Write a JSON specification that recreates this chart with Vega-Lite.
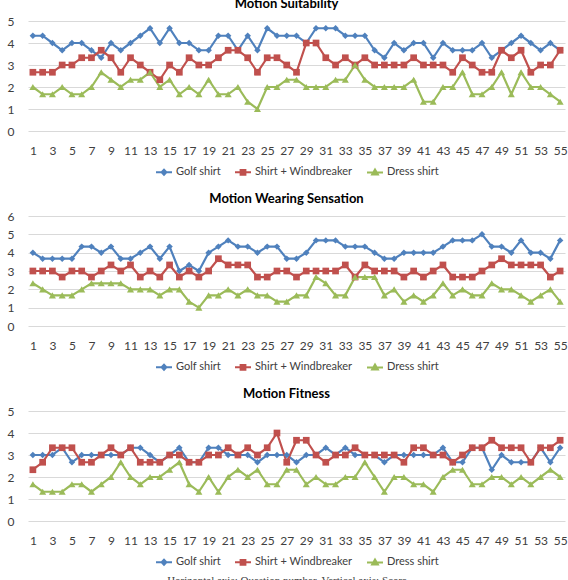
{
  "$schema": "https://vega.github.io/schema/vega-lite/v6.json",
  "background": "white",
  "padding": {"left": 7, "right": 2, "top": -2, "bottom": 0},
  "bounds": "flush",
  "spacing": 85,
  "title": {
    "text": "Horizontal axis: Question number, Vertical axis: Score",
    "orient": "bottom",
    "anchor": "middle",
    "font": "Liberation Serif",
    "fontSize": 11,
    "fontWeight": "normal",
    "color": "#404040",
    "offset": 6
  },
  "datasets": {
    "suitability": [
      {"q":1,"s":"Golf shirt","v":4.33},{"q":2,"s":"Golf shirt","v":4.33},{"q":3,"s":"Golf shirt","v":4},{"q":4,"s":"Golf shirt","v":3.67},{"q":5,"s":"Golf shirt","v":4},
      {"q":6,"s":"Golf shirt","v":4},{"q":7,"s":"Golf shirt","v":3.67},{"q":8,"s":"Golf shirt","v":3.33},{"q":9,"s":"Golf shirt","v":4},{"q":10,"s":"Golf shirt","v":3.67},
      {"q":11,"s":"Golf shirt","v":4},{"q":12,"s":"Golf shirt","v":4.33},{"q":13,"s":"Golf shirt","v":4.67},{"q":14,"s":"Golf shirt","v":4},{"q":15,"s":"Golf shirt","v":4.67},
      {"q":16,"s":"Golf shirt","v":4},{"q":17,"s":"Golf shirt","v":4},{"q":18,"s":"Golf shirt","v":3.67},{"q":19,"s":"Golf shirt","v":3.67},{"q":20,"s":"Golf shirt","v":4.33},
      {"q":21,"s":"Golf shirt","v":4.33},{"q":22,"s":"Golf shirt","v":3.67},{"q":23,"s":"Golf shirt","v":4.33},{"q":24,"s":"Golf shirt","v":3.67},{"q":25,"s":"Golf shirt","v":4.67},
      {"q":26,"s":"Golf shirt","v":4.33},{"q":27,"s":"Golf shirt","v":4.33},{"q":28,"s":"Golf shirt","v":4.33},{"q":29,"s":"Golf shirt","v":4},{"q":30,"s":"Golf shirt","v":4.67},
      {"q":31,"s":"Golf shirt","v":4.67},{"q":32,"s":"Golf shirt","v":4.67},{"q":33,"s":"Golf shirt","v":4.33},{"q":34,"s":"Golf shirt","v":4.33},{"q":35,"s":"Golf shirt","v":4.33},
      {"q":36,"s":"Golf shirt","v":3.67},{"q":37,"s":"Golf shirt","v":3.33},{"q":38,"s":"Golf shirt","v":4},{"q":39,"s":"Golf shirt","v":3.67},{"q":40,"s":"Golf shirt","v":4},
      {"q":41,"s":"Golf shirt","v":4},{"q":42,"s":"Golf shirt","v":3.33},{"q":43,"s":"Golf shirt","v":4},{"q":44,"s":"Golf shirt","v":3.67},{"q":45,"s":"Golf shirt","v":3.67},
      {"q":46,"s":"Golf shirt","v":3.67},{"q":47,"s":"Golf shirt","v":4},{"q":48,"s":"Golf shirt","v":3.33},{"q":49,"s":"Golf shirt","v":3.67},{"q":50,"s":"Golf shirt","v":4},
      {"q":51,"s":"Golf shirt","v":4.33},{"q":52,"s":"Golf shirt","v":4},{"q":53,"s":"Golf shirt","v":3.67},{"q":54,"s":"Golf shirt","v":4},{"q":55,"s":"Golf shirt","v":3.67},

      {"q":1,"s":"Shirt + Windbreaker","v":2.67},{"q":2,"s":"Shirt + Windbreaker","v":2.67},{"q":3,"s":"Shirt + Windbreaker","v":2.67},{"q":4,"s":"Shirt + Windbreaker","v":3},{"q":5,"s":"Shirt + Windbreaker","v":3},
      {"q":6,"s":"Shirt + Windbreaker","v":3.33},{"q":7,"s":"Shirt + Windbreaker","v":3.33},{"q":8,"s":"Shirt + Windbreaker","v":3.67},{"q":9,"s":"Shirt + Windbreaker","v":3.33},{"q":10,"s":"Shirt + Windbreaker","v":2.67},
      {"q":11,"s":"Shirt + Windbreaker","v":3.33},{"q":12,"s":"Shirt + Windbreaker","v":3},{"q":13,"s":"Shirt + Windbreaker","v":2.67},{"q":14,"s":"Shirt + Windbreaker","v":2.33},{"q":15,"s":"Shirt + Windbreaker","v":3},
      {"q":16,"s":"Shirt + Windbreaker","v":2.67},{"q":17,"s":"Shirt + Windbreaker","v":3.33},{"q":18,"s":"Shirt + Windbreaker","v":3},{"q":19,"s":"Shirt + Windbreaker","v":3},{"q":20,"s":"Shirt + Windbreaker","v":3.33},
      {"q":21,"s":"Shirt + Windbreaker","v":3.67},{"q":22,"s":"Shirt + Windbreaker","v":3.67},{"q":23,"s":"Shirt + Windbreaker","v":3.33},{"q":24,"s":"Shirt + Windbreaker","v":2.67},{"q":25,"s":"Shirt + Windbreaker","v":3.33},
      {"q":26,"s":"Shirt + Windbreaker","v":3.33},{"q":27,"s":"Shirt + Windbreaker","v":3},{"q":28,"s":"Shirt + Windbreaker","v":2.67},{"q":29,"s":"Shirt + Windbreaker","v":4},{"q":30,"s":"Shirt + Windbreaker","v":4},
      {"q":31,"s":"Shirt + Windbreaker","v":3.33},{"q":32,"s":"Shirt + Windbreaker","v":3},{"q":33,"s":"Shirt + Windbreaker","v":3.33},{"q":34,"s":"Shirt + Windbreaker","v":3},{"q":35,"s":"Shirt + Windbreaker","v":3.33},
      {"q":36,"s":"Shirt + Windbreaker","v":3},{"q":37,"s":"Shirt + Windbreaker","v":3},{"q":38,"s":"Shirt + Windbreaker","v":3},{"q":39,"s":"Shirt + Windbreaker","v":3},{"q":40,"s":"Shirt + Windbreaker","v":3.33},
      {"q":41,"s":"Shirt + Windbreaker","v":3},{"q":42,"s":"Shirt + Windbreaker","v":3},{"q":43,"s":"Shirt + Windbreaker","v":3},{"q":44,"s":"Shirt + Windbreaker","v":2.67},{"q":45,"s":"Shirt + Windbreaker","v":3.33},
      {"q":46,"s":"Shirt + Windbreaker","v":3},{"q":47,"s":"Shirt + Windbreaker","v":2.67},{"q":48,"s":"Shirt + Windbreaker","v":2.67},{"q":49,"s":"Shirt + Windbreaker","v":3.67},{"q":50,"s":"Shirt + Windbreaker","v":3.33},
      {"q":51,"s":"Shirt + Windbreaker","v":3.67},{"q":52,"s":"Shirt + Windbreaker","v":2.67},{"q":53,"s":"Shirt + Windbreaker","v":3},{"q":54,"s":"Shirt + Windbreaker","v":3},{"q":55,"s":"Shirt + Windbreaker","v":3.67},

      {"q":1,"s":"Dress shirt","v":2},{"q":2,"s":"Dress shirt","v":1.67},{"q":3,"s":"Dress shirt","v":1.67},{"q":4,"s":"Dress shirt","v":2},{"q":5,"s":"Dress shirt","v":1.67},
      {"q":6,"s":"Dress shirt","v":1.67},{"q":7,"s":"Dress shirt","v":2},{"q":8,"s":"Dress shirt","v":2.67},{"q":9,"s":"Dress shirt","v":2.33},{"q":10,"s":"Dress shirt","v":2},
      {"q":11,"s":"Dress shirt","v":2.33},{"q":12,"s":"Dress shirt","v":2.33},{"q":13,"s":"Dress shirt","v":2.67},{"q":14,"s":"Dress shirt","v":2},{"q":15,"s":"Dress shirt","v":2.33},
      {"q":16,"s":"Dress shirt","v":1.67},{"q":17,"s":"Dress shirt","v":2},{"q":18,"s":"Dress shirt","v":1.67},{"q":19,"s":"Dress shirt","v":2.33},{"q":20,"s":"Dress shirt","v":1.67},
      {"q":21,"s":"Dress shirt","v":1.67},{"q":22,"s":"Dress shirt","v":2},{"q":23,"s":"Dress shirt","v":1.33},{"q":24,"s":"Dress shirt","v":1},{"q":25,"s":"Dress shirt","v":2},
      {"q":26,"s":"Dress shirt","v":2},{"q":27,"s":"Dress shirt","v":2.33},{"q":28,"s":"Dress shirt","v":2.33},{"q":29,"s":"Dress shirt","v":2},{"q":30,"s":"Dress shirt","v":2},
      {"q":31,"s":"Dress shirt","v":2},{"q":32,"s":"Dress shirt","v":2.33},{"q":33,"s":"Dress shirt","v":2.33},{"q":34,"s":"Dress shirt","v":3},{"q":35,"s":"Dress shirt","v":2.33},
      {"q":36,"s":"Dress shirt","v":2},{"q":37,"s":"Dress shirt","v":2},{"q":38,"s":"Dress shirt","v":2},{"q":39,"s":"Dress shirt","v":2},{"q":40,"s":"Dress shirt","v":2.33},
      {"q":41,"s":"Dress shirt","v":1.33},{"q":42,"s":"Dress shirt","v":1.33},{"q":43,"s":"Dress shirt","v":2},{"q":44,"s":"Dress shirt","v":2},{"q":45,"s":"Dress shirt","v":2.67},
      {"q":46,"s":"Dress shirt","v":1.67},{"q":47,"s":"Dress shirt","v":1.67},{"q":48,"s":"Dress shirt","v":2},{"q":49,"s":"Dress shirt","v":2.67},{"q":50,"s":"Dress shirt","v":1.67},
      {"q":51,"s":"Dress shirt","v":2.67},{"q":52,"s":"Dress shirt","v":2},{"q":53,"s":"Dress shirt","v":2},{"q":54,"s":"Dress shirt","v":1.67},{"q":55,"s":"Dress shirt","v":1.33}
    ],
    "sensation": [
      {"q":1,"s":"Golf shirt","v":4},{"q":2,"s":"Golf shirt","v":3.67},{"q":3,"s":"Golf shirt","v":3.67},{"q":4,"s":"Golf shirt","v":3.67},{"q":5,"s":"Golf shirt","v":3.67},
      {"q":6,"s":"Golf shirt","v":4.33},{"q":7,"s":"Golf shirt","v":4.33},{"q":8,"s":"Golf shirt","v":4},{"q":9,"s":"Golf shirt","v":4.33},{"q":10,"s":"Golf shirt","v":3.67},
      {"q":11,"s":"Golf shirt","v":3.67},{"q":12,"s":"Golf shirt","v":4},{"q":13,"s":"Golf shirt","v":4.33},{"q":14,"s":"Golf shirt","v":3.67},{"q":15,"s":"Golf shirt","v":4.33},
      {"q":16,"s":"Golf shirt","v":3},{"q":17,"s":"Golf shirt","v":3.33},{"q":18,"s":"Golf shirt","v":3},{"q":19,"s":"Golf shirt","v":4},{"q":20,"s":"Golf shirt","v":4.33},
      {"q":21,"s":"Golf shirt","v":4.67},{"q":22,"s":"Golf shirt","v":4.33},{"q":23,"s":"Golf shirt","v":4.33},{"q":24,"s":"Golf shirt","v":4},{"q":25,"s":"Golf shirt","v":4.33},
      {"q":26,"s":"Golf shirt","v":4.33},{"q":27,"s":"Golf shirt","v":3.67},{"q":28,"s":"Golf shirt","v":3.67},{"q":29,"s":"Golf shirt","v":4},{"q":30,"s":"Golf shirt","v":4.67},
      {"q":31,"s":"Golf shirt","v":4.67},{"q":32,"s":"Golf shirt","v":4.67},{"q":33,"s":"Golf shirt","v":4.33},{"q":34,"s":"Golf shirt","v":4.33},{"q":35,"s":"Golf shirt","v":4.33},
      {"q":36,"s":"Golf shirt","v":4},{"q":37,"s":"Golf shirt","v":3.67},{"q":38,"s":"Golf shirt","v":3.67},{"q":39,"s":"Golf shirt","v":4},{"q":40,"s":"Golf shirt","v":4},
      {"q":41,"s":"Golf shirt","v":4},{"q":42,"s":"Golf shirt","v":4},{"q":43,"s":"Golf shirt","v":4.33},{"q":44,"s":"Golf shirt","v":4.67},{"q":45,"s":"Golf shirt","v":4.67},
      {"q":46,"s":"Golf shirt","v":4.67},{"q":47,"s":"Golf shirt","v":5},{"q":48,"s":"Golf shirt","v":4.33},{"q":49,"s":"Golf shirt","v":4.33},{"q":50,"s":"Golf shirt","v":4},
      {"q":51,"s":"Golf shirt","v":4.67},{"q":52,"s":"Golf shirt","v":4},{"q":53,"s":"Golf shirt","v":4},{"q":54,"s":"Golf shirt","v":3.67},{"q":55,"s":"Golf shirt","v":4.67},

      {"q":1,"s":"Shirt + Windbreaker","v":3},{"q":2,"s":"Shirt + Windbreaker","v":3},{"q":3,"s":"Shirt + Windbreaker","v":3},{"q":4,"s":"Shirt + Windbreaker","v":2.67},{"q":5,"s":"Shirt + Windbreaker","v":3},
      {"q":6,"s":"Shirt + Windbreaker","v":3},{"q":7,"s":"Shirt + Windbreaker","v":2.67},{"q":8,"s":"Shirt + Windbreaker","v":3},{"q":9,"s":"Shirt + Windbreaker","v":3.33},{"q":10,"s":"Shirt + Windbreaker","v":3},
      {"q":11,"s":"Shirt + Windbreaker","v":3.33},{"q":12,"s":"Shirt + Windbreaker","v":2.67},{"q":13,"s":"Shirt + Windbreaker","v":3},{"q":14,"s":"Shirt + Windbreaker","v":2.67},{"q":15,"s":"Shirt + Windbreaker","v":3.33},
      {"q":16,"s":"Shirt + Windbreaker","v":2.67},{"q":17,"s":"Shirt + Windbreaker","v":3},{"q":18,"s":"Shirt + Windbreaker","v":2.67},{"q":19,"s":"Shirt + Windbreaker","v":3},{"q":20,"s":"Shirt + Windbreaker","v":3.67},
      {"q":21,"s":"Shirt + Windbreaker","v":3.33},{"q":22,"s":"Shirt + Windbreaker","v":3.33},{"q":23,"s":"Shirt + Windbreaker","v":3.33},{"q":24,"s":"Shirt + Windbreaker","v":2.67},{"q":25,"s":"Shirt + Windbreaker","v":2.67},
      {"q":26,"s":"Shirt + Windbreaker","v":3},{"q":27,"s":"Shirt + Windbreaker","v":3},{"q":28,"s":"Shirt + Windbreaker","v":2.67},{"q":29,"s":"Shirt + Windbreaker","v":3},{"q":30,"s":"Shirt + Windbreaker","v":3},
      {"q":31,"s":"Shirt + Windbreaker","v":3},{"q":32,"s":"Shirt + Windbreaker","v":3},{"q":33,"s":"Shirt + Windbreaker","v":3.33},{"q":34,"s":"Shirt + Windbreaker","v":2.67},{"q":35,"s":"Shirt + Windbreaker","v":3.33},
      {"q":36,"s":"Shirt + Windbreaker","v":3},{"q":37,"s":"Shirt + Windbreaker","v":3},{"q":38,"s":"Shirt + Windbreaker","v":3},{"q":39,"s":"Shirt + Windbreaker","v":2.67},{"q":40,"s":"Shirt + Windbreaker","v":3},
      {"q":41,"s":"Shirt + Windbreaker","v":2.67},{"q":42,"s":"Shirt + Windbreaker","v":3},{"q":43,"s":"Shirt + Windbreaker","v":3.33},{"q":44,"s":"Shirt + Windbreaker","v":2.67},{"q":45,"s":"Shirt + Windbreaker","v":2.67},
      {"q":46,"s":"Shirt + Windbreaker","v":2.67},{"q":47,"s":"Shirt + Windbreaker","v":3},{"q":48,"s":"Shirt + Windbreaker","v":3.33},{"q":49,"s":"Shirt + Windbreaker","v":3.67},{"q":50,"s":"Shirt + Windbreaker","v":3.33},
      {"q":51,"s":"Shirt + Windbreaker","v":3.33},{"q":52,"s":"Shirt + Windbreaker","v":3.33},{"q":53,"s":"Shirt + Windbreaker","v":3.33},{"q":54,"s":"Shirt + Windbreaker","v":2.67},{"q":55,"s":"Shirt + Windbreaker","v":3},

      {"q":1,"s":"Dress shirt","v":2.33},{"q":2,"s":"Dress shirt","v":2},{"q":3,"s":"Dress shirt","v":1.67},{"q":4,"s":"Dress shirt","v":1.67},{"q":5,"s":"Dress shirt","v":1.67},
      {"q":6,"s":"Dress shirt","v":2},{"q":7,"s":"Dress shirt","v":2.33},{"q":8,"s":"Dress shirt","v":2.33},{"q":9,"s":"Dress shirt","v":2.33},{"q":10,"s":"Dress shirt","v":2.33},
      {"q":11,"s":"Dress shirt","v":2},{"q":12,"s":"Dress shirt","v":2},{"q":13,"s":"Dress shirt","v":2},{"q":14,"s":"Dress shirt","v":1.67},{"q":15,"s":"Dress shirt","v":2},
      {"q":16,"s":"Dress shirt","v":2},{"q":17,"s":"Dress shirt","v":1.33},{"q":18,"s":"Dress shirt","v":1},{"q":19,"s":"Dress shirt","v":1.67},{"q":20,"s":"Dress shirt","v":1.67},
      {"q":21,"s":"Dress shirt","v":2},{"q":22,"s":"Dress shirt","v":1.67},{"q":23,"s":"Dress shirt","v":2},{"q":24,"s":"Dress shirt","v":1.67},{"q":25,"s":"Dress shirt","v":1.67},
      {"q":26,"s":"Dress shirt","v":1.33},{"q":27,"s":"Dress shirt","v":1.33},{"q":28,"s":"Dress shirt","v":1.67},{"q":29,"s":"Dress shirt","v":1.67},{"q":30,"s":"Dress shirt","v":2.67},
      {"q":31,"s":"Dress shirt","v":2.33},{"q":32,"s":"Dress shirt","v":1.67},{"q":33,"s":"Dress shirt","v":1.67},{"q":34,"s":"Dress shirt","v":2.67},{"q":35,"s":"Dress shirt","v":2.67},
      {"q":36,"s":"Dress shirt","v":2.67},{"q":37,"s":"Dress shirt","v":1.67},{"q":38,"s":"Dress shirt","v":2},{"q":39,"s":"Dress shirt","v":1.33},{"q":40,"s":"Dress shirt","v":1.67},
      {"q":41,"s":"Dress shirt","v":1.33},{"q":42,"s":"Dress shirt","v":1.67},{"q":43,"s":"Dress shirt","v":2.33},{"q":44,"s":"Dress shirt","v":1.67},{"q":45,"s":"Dress shirt","v":2},
      {"q":46,"s":"Dress shirt","v":1.67},{"q":47,"s":"Dress shirt","v":1.67},{"q":48,"s":"Dress shirt","v":2.33},{"q":49,"s":"Dress shirt","v":2},{"q":50,"s":"Dress shirt","v":2},
      {"q":51,"s":"Dress shirt","v":1.67},{"q":52,"s":"Dress shirt","v":1.33},{"q":53,"s":"Dress shirt","v":1.67},{"q":54,"s":"Dress shirt","v":2},{"q":55,"s":"Dress shirt","v":1.33}
    ],
    "fitness": [
      {"q":1,"s":"Golf shirt","v":3},{"q":2,"s":"Golf shirt","v":3},{"q":3,"s":"Golf shirt","v":3},{"q":4,"s":"Golf shirt","v":3.33},{"q":5,"s":"Golf shirt","v":2.67},
      {"q":6,"s":"Golf shirt","v":3},{"q":7,"s":"Golf shirt","v":3},{"q":8,"s":"Golf shirt","v":3},{"q":9,"s":"Golf shirt","v":3},{"q":10,"s":"Golf shirt","v":3},
      {"q":11,"s":"Golf shirt","v":3.33},{"q":12,"s":"Golf shirt","v":3.33},{"q":13,"s":"Golf shirt","v":3},{"q":14,"s":"Golf shirt","v":2.67},{"q":15,"s":"Golf shirt","v":3},
      {"q":16,"s":"Golf shirt","v":3.33},{"q":17,"s":"Golf shirt","v":2.67},{"q":18,"s":"Golf shirt","v":2.67},{"q":19,"s":"Golf shirt","v":3.33},{"q":20,"s":"Golf shirt","v":3.33},
      {"q":21,"s":"Golf shirt","v":3},{"q":22,"s":"Golf shirt","v":3},{"q":23,"s":"Golf shirt","v":3},{"q":24,"s":"Golf shirt","v":2.67},{"q":25,"s":"Golf shirt","v":3},
      {"q":26,"s":"Golf shirt","v":3},{"q":27,"s":"Golf shirt","v":3},{"q":28,"s":"Golf shirt","v":2.67},{"q":29,"s":"Golf shirt","v":3},{"q":30,"s":"Golf shirt","v":3},
      {"q":31,"s":"Golf shirt","v":3.33},{"q":32,"s":"Golf shirt","v":3},{"q":33,"s":"Golf shirt","v":3.33},{"q":34,"s":"Golf shirt","v":3},{"q":35,"s":"Golf shirt","v":3},
      {"q":36,"s":"Golf shirt","v":3},{"q":37,"s":"Golf shirt","v":2.67},{"q":38,"s":"Golf shirt","v":3},{"q":39,"s":"Golf shirt","v":3},{"q":40,"s":"Golf shirt","v":3},
      {"q":41,"s":"Golf shirt","v":3},{"q":42,"s":"Golf shirt","v":3},{"q":43,"s":"Golf shirt","v":3.33},{"q":44,"s":"Golf shirt","v":2.67},{"q":45,"s":"Golf shirt","v":2.67},
      {"q":46,"s":"Golf shirt","v":3.33},{"q":47,"s":"Golf shirt","v":3.33},{"q":48,"s":"Golf shirt","v":2.33},{"q":49,"s":"Golf shirt","v":3},{"q":50,"s":"Golf shirt","v":2.67},
      {"q":51,"s":"Golf shirt","v":2.67},{"q":52,"s":"Golf shirt","v":2.67},{"q":53,"s":"Golf shirt","v":3.33},{"q":54,"s":"Golf shirt","v":2.67},{"q":55,"s":"Golf shirt","v":3.33},

      {"q":1,"s":"Shirt + Windbreaker","v":2.33},{"q":2,"s":"Shirt + Windbreaker","v":2.67},{"q":3,"s":"Shirt + Windbreaker","v":3.33},{"q":4,"s":"Shirt + Windbreaker","v":3.33},{"q":5,"s":"Shirt + Windbreaker","v":3.33},
      {"q":6,"s":"Shirt + Windbreaker","v":2.67},{"q":7,"s":"Shirt + Windbreaker","v":2.67},{"q":8,"s":"Shirt + Windbreaker","v":3},{"q":9,"s":"Shirt + Windbreaker","v":3.33},{"q":10,"s":"Shirt + Windbreaker","v":3},
      {"q":11,"s":"Shirt + Windbreaker","v":3.33},{"q":12,"s":"Shirt + Windbreaker","v":2.67},{"q":13,"s":"Shirt + Windbreaker","v":2.67},{"q":14,"s":"Shirt + Windbreaker","v":2.67},{"q":15,"s":"Shirt + Windbreaker","v":3},
      {"q":16,"s":"Shirt + Windbreaker","v":3},{"q":17,"s":"Shirt + Windbreaker","v":2.67},{"q":18,"s":"Shirt + Windbreaker","v":2.67},{"q":19,"s":"Shirt + Windbreaker","v":3},{"q":20,"s":"Shirt + Windbreaker","v":3},
      {"q":21,"s":"Shirt + Windbreaker","v":3.33},{"q":22,"s":"Shirt + Windbreaker","v":3},{"q":23,"s":"Shirt + Windbreaker","v":3.33},{"q":24,"s":"Shirt + Windbreaker","v":3},{"q":25,"s":"Shirt + Windbreaker","v":3.33},
      {"q":26,"s":"Shirt + Windbreaker","v":4},{"q":27,"s":"Shirt + Windbreaker","v":2.67},{"q":28,"s":"Shirt + Windbreaker","v":3.67},{"q":29,"s":"Shirt + Windbreaker","v":3.67},{"q":30,"s":"Shirt + Windbreaker","v":3},
      {"q":31,"s":"Shirt + Windbreaker","v":2.67},{"q":32,"s":"Shirt + Windbreaker","v":3},{"q":33,"s":"Shirt + Windbreaker","v":3},{"q":34,"s":"Shirt + Windbreaker","v":3.33},{"q":35,"s":"Shirt + Windbreaker","v":3},
      {"q":36,"s":"Shirt + Windbreaker","v":3},{"q":37,"s":"Shirt + Windbreaker","v":3},{"q":38,"s":"Shirt + Windbreaker","v":3},{"q":39,"s":"Shirt + Windbreaker","v":2.67},{"q":40,"s":"Shirt + Windbreaker","v":3.33},
      {"q":41,"s":"Shirt + Windbreaker","v":3.33},{"q":42,"s":"Shirt + Windbreaker","v":3},{"q":43,"s":"Shirt + Windbreaker","v":3},{"q":44,"s":"Shirt + Windbreaker","v":2.67},{"q":45,"s":"Shirt + Windbreaker","v":3},
      {"q":46,"s":"Shirt + Windbreaker","v":3.33},{"q":47,"s":"Shirt + Windbreaker","v":3.33},{"q":48,"s":"Shirt + Windbreaker","v":3.67},{"q":49,"s":"Shirt + Windbreaker","v":3.33},{"q":50,"s":"Shirt + Windbreaker","v":3.33},
      {"q":51,"s":"Shirt + Windbreaker","v":3.33},{"q":52,"s":"Shirt + Windbreaker","v":2.67},{"q":53,"s":"Shirt + Windbreaker","v":3.33},{"q":54,"s":"Shirt + Windbreaker","v":3.33},{"q":55,"s":"Shirt + Windbreaker","v":3.67},

      {"q":1,"s":"Dress shirt","v":1.67},{"q":2,"s":"Dress shirt","v":1.33},{"q":3,"s":"Dress shirt","v":1.33},{"q":4,"s":"Dress shirt","v":1.33},{"q":5,"s":"Dress shirt","v":1.67},
      {"q":6,"s":"Dress shirt","v":1.67},{"q":7,"s":"Dress shirt","v":1.33},{"q":8,"s":"Dress shirt","v":1.67},{"q":9,"s":"Dress shirt","v":2},{"q":10,"s":"Dress shirt","v":2.67},
      {"q":11,"s":"Dress shirt","v":2},{"q":12,"s":"Dress shirt","v":1.67},{"q":13,"s":"Dress shirt","v":2},{"q":14,"s":"Dress shirt","v":2},{"q":15,"s":"Dress shirt","v":2.33},
      {"q":16,"s":"Dress shirt","v":2.67},{"q":17,"s":"Dress shirt","v":1.67},{"q":18,"s":"Dress shirt","v":1.33},{"q":19,"s":"Dress shirt","v":2},{"q":20,"s":"Dress shirt","v":1.33},
      {"q":21,"s":"Dress shirt","v":2},{"q":22,"s":"Dress shirt","v":2.33},{"q":23,"s":"Dress shirt","v":2},{"q":24,"s":"Dress shirt","v":2.33},{"q":25,"s":"Dress shirt","v":1.67},
      {"q":26,"s":"Dress shirt","v":1.67},{"q":27,"s":"Dress shirt","v":2.33},{"q":28,"s":"Dress shirt","v":2.33},{"q":29,"s":"Dress shirt","v":1.67},{"q":30,"s":"Dress shirt","v":2},
      {"q":31,"s":"Dress shirt","v":1.67},{"q":32,"s":"Dress shirt","v":1.67},{"q":33,"s":"Dress shirt","v":2},{"q":34,"s":"Dress shirt","v":2},{"q":35,"s":"Dress shirt","v":2.67},
      {"q":36,"s":"Dress shirt","v":2},{"q":37,"s":"Dress shirt","v":1.33},{"q":38,"s":"Dress shirt","v":2},{"q":39,"s":"Dress shirt","v":2},{"q":40,"s":"Dress shirt","v":1.67},
      {"q":41,"s":"Dress shirt","v":1.67},{"q":42,"s":"Dress shirt","v":1.33},{"q":43,"s":"Dress shirt","v":2},{"q":44,"s":"Dress shirt","v":2.33},{"q":45,"s":"Dress shirt","v":2.33},
      {"q":46,"s":"Dress shirt","v":1.67},{"q":47,"s":"Dress shirt","v":1.67},{"q":48,"s":"Dress shirt","v":2},{"q":49,"s":"Dress shirt","v":2},{"q":50,"s":"Dress shirt","v":1.67},
      {"q":51,"s":"Dress shirt","v":2},{"q":52,"s":"Dress shirt","v":1.67},{"q":53,"s":"Dress shirt","v":2},{"q":54,"s":"Dress shirt","v":2.33},{"q":55,"s":"Dress shirt","v":2}
    ]
  },
  "resolve": {
    "scale": {"color": "independent", "shape": "independent"},
    "legend": {"color": "independent", "shape": "independent"}
  },
  "vconcat": [
    {
      "data": {"name": "suitability"},
      "width": 537,
      "height": 110,
      "title": {"text": "Motion Suitability", "dx": -10},
      "encoding": {
        "x": {"field": "q", "type": "ordinal", "title": null,
              "axis": {"values": [1,3,5,7,9,11,13,15,17,19,21,23,25,27,29,31,33,35,37,39,41,43,45,47,49,51,53,55]}},
        "y": {"field": "v", "type": "quantitative", "title": null,
              "scale": {"domain": [0, 5], "nice": false},
              "axis": {"values": [0,1,2,3,4,5]}},
        "color": {"field": "s", "type": "nominal",
                  "scale": {"domain": ["Golf shirt", "Shirt + Windbreaker", "Dress shirt"], "range": ["#4F81BD", "#C0504D", "#9BBB59"]},
                  "legend": {"title": null, "orient": "bottom", "direction": "horizontal", "offset": 7}}
      },
      "layer": [
        {"mark": {"type": "line", "strokeWidth": 2.2}},
        {"transform": [{"filter": {"field": "s", "equal": "Golf shirt"}}],
         "mark": {"type": "point", "shape": "diamond", "filled": true, "opacity": 1, "size": 42}},
        {"transform": [{"filter": {"field": "s", "equal": "Shirt + Windbreaker"}}],
         "mark": {"type": "point", "shape": "square", "filled": true, "opacity": 1, "size": 45}},
        {"transform": [{"filter": {"field": "s", "equal": "Dress shirt"}}],
         "mark": {"type": "point", "shape": "triangle-up", "filled": true, "opacity": 1, "size": 50}},
        {"transform": [{"filter": "false"}],
         "mark": {"type": "point", "filled": false, "opacity": 1, "strokeWidth": 2},
         "encoding": {
           "shape": {"field": "s", "type": "nominal",
                     "scale": {"domain": ["Golf shirt", "Shirt + Windbreaker", "Dress shirt"],
                               "range": ["M-1,0H1M0,-0.32L0.3,0L0,0.32L-0.3,0ZM0,-0.12L0.1,0L0,0.12L-0.1,0Z",
                                         "M-1,0H1M-0.3,-0.3H0.3V0.3H-0.3ZM-0.1,-0.1H0.1V0.1H-0.1Z",
                                         "M-1,0H1M0,-0.36L0.36,0.28H-0.36ZM0,-0.1L0.12,0.12H-0.12Z"]},
                     "legend": {"title": null, "orient": "bottom", "direction": "horizontal", "offset": 7}}
         }}
      ]
    },
    {
      "data": {"name": "sensation"},
      "width": 537,
      "height": 110,
      "title": {"text": "Motion Wearing Sensation", "dx": -10},
      "encoding": {
        "x": {"field": "q", "type": "ordinal", "title": null,
              "axis": {"values": [1,3,5,7,9,11,13,15,17,19,21,23,25,27,29,31,33,35,37,39,41,43,45,47,49,51,53,55]}},
        "y": {"field": "v", "type": "quantitative", "title": null,
              "scale": {"domain": [0, 6], "nice": false},
              "axis": {"values": [0,1,2,3,4,5,6]}},
        "color": {"field": "s", "type": "nominal",
                  "scale": {"domain": ["Golf shirt", "Shirt + Windbreaker", "Dress shirt"], "range": ["#4F81BD", "#C0504D", "#9BBB59"]},
                  "legend": {"title": null, "orient": "bottom", "direction": "horizontal", "offset": 7}}
      },
      "layer": [
        {"mark": {"type": "line", "strokeWidth": 2.2}},
        {"transform": [{"filter": {"field": "s", "equal": "Golf shirt"}}],
         "mark": {"type": "point", "shape": "diamond", "filled": true, "opacity": 1, "size": 42}},
        {"transform": [{"filter": {"field": "s", "equal": "Shirt + Windbreaker"}}],
         "mark": {"type": "point", "shape": "square", "filled": true, "opacity": 1, "size": 45}},
        {"transform": [{"filter": {"field": "s", "equal": "Dress shirt"}}],
         "mark": {"type": "point", "shape": "triangle-up", "filled": true, "opacity": 1, "size": 50}},
        {"transform": [{"filter": "false"}],
         "mark": {"type": "point", "filled": false, "opacity": 1, "strokeWidth": 2},
         "encoding": {
           "shape": {"field": "s", "type": "nominal",
                     "scale": {"domain": ["Golf shirt", "Shirt + Windbreaker", "Dress shirt"],
                               "range": ["M-1,0H1M0,-0.32L0.3,0L0,0.32L-0.3,0ZM0,-0.12L0.1,0L0,0.12L-0.1,0Z",
                                         "M-1,0H1M-0.3,-0.3H0.3V0.3H-0.3ZM-0.1,-0.1H0.1V0.1H-0.1Z",
                                         "M-1,0H1M0,-0.36L0.36,0.28H-0.36ZM0,-0.1L0.12,0.12H-0.12Z"]},
                     "legend": {"title": null, "orient": "bottom", "direction": "horizontal", "offset": 7}}
         }}
      ]
    },
    {
      "data": {"name": "fitness"},
      "width": 537,
      "height": 110,
      "title": {"text": "Motion Fitness", "dx": -10},
      "encoding": {
        "x": {"field": "q", "type": "ordinal", "title": null,
              "axis": {"values": [1,3,5,7,9,11,13,15,17,19,21,23,25,27,29,31,33,35,37,39,41,43,45,47,49,51,53,55]}},
        "y": {"field": "v", "type": "quantitative", "title": null,
              "scale": {"domain": [0, 5], "nice": false},
              "axis": {"values": [0,1,2,3,4,5]}},
        "color": {"field": "s", "type": "nominal",
                  "scale": {"domain": ["Golf shirt", "Shirt + Windbreaker", "Dress shirt"], "range": ["#4F81BD", "#C0504D", "#9BBB59"]},
                  "legend": {"title": null, "orient": "bottom", "direction": "horizontal", "offset": 7}}
      },
      "layer": [
        {"mark": {"type": "line", "strokeWidth": 2.2}},
        {"transform": [{"filter": {"field": "s", "equal": "Golf shirt"}}],
         "mark": {"type": "point", "shape": "diamond", "filled": true, "opacity": 1, "size": 42}},
        {"transform": [{"filter": {"field": "s", "equal": "Shirt + Windbreaker"}}],
         "mark": {"type": "point", "shape": "square", "filled": true, "opacity": 1, "size": 45}},
        {"transform": [{"filter": {"field": "s", "equal": "Dress shirt"}}],
         "mark": {"type": "point", "shape": "triangle-up", "filled": true, "opacity": 1, "size": 50}},
        {"transform": [{"filter": "false"}],
         "mark": {"type": "point", "filled": false, "opacity": 1, "strokeWidth": 2},
         "encoding": {
           "shape": {"field": "s", "type": "nominal",
                     "scale": {"domain": ["Golf shirt", "Shirt + Windbreaker", "Dress shirt"],
                               "range": ["M-1,0H1M0,-0.32L0.3,0L0,0.32L-0.3,0ZM0,-0.12L0.1,0L0,0.12L-0.1,0Z",
                                         "M-1,0H1M-0.3,-0.3H0.3V0.3H-0.3ZM-0.1,-0.1H0.1V0.1H-0.1Z",
                                         "M-1,0H1M0,-0.36L0.36,0.28H-0.36ZM0,-0.1L0.12,0.12H-0.12Z"]},
                     "legend": {"title": null, "orient": "bottom", "direction": "horizontal", "offset": 7}}
         }}
      ]
    }
  ],
  "config": {
    "font": "Lato",
    "view": {"stroke": null},
    "axis": {
      "labelFont": "Lato", "labelFontSize": 12, "labelColor": "#404040",
      "ticks": false, "tickSize": 0, "domain": false, "labelPadding": 14
    },
    "axisX": {"grid": false, "labelAngle": 0},
    "axisY": {"grid": true, "gridColor": "#d9d9d9", "gridWidth": 1},
    "legend": {
      "labelFont": "Lato", "labelFontSize": 11, "labelColor": "#404040",
      "symbolSize": 256, "symbolStrokeWidth": 2, "columnPadding": 10, "labelOffset": 3, "padding": 0,
      "layout": {"bottom": {"anchor": "middle"}}
    },
    "title": {"font": "Lato", "fontSize": 13, "fontWeight": "bold", "color": "#000000", "offset": 4, "anchor": "middle"}
  }
}
